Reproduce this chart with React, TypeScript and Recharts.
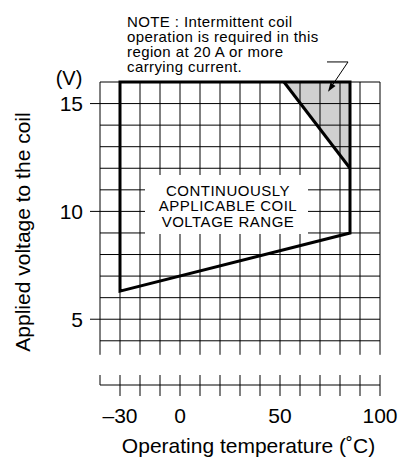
import React from 'react';
import { ComposedChart, XAxis, YAxis, Line, Area, ReferenceLine } from 'recharts';

const FONT = '"Liberation Sans", Arial, Helvetica, sans-serif';

// temperature (deg C) grid and labels
const tempTicks = [-40, -30, -20, -10, 0, 10, 20, 30, 40, 50, 60, 70, 80, 90, 100];
const tempLabels = [-30, 0, 50, 100];
// voltage grid and labels
const voltTicks = [5, 10, 15];
const voltGrid = [4, 5, 6, 7, 8, 9, 10, 11, 12, 13, 14, 15, 16];
const gridBottom = 3.35; // grid is broken below this voltage
const axisBottom = 1.95; // where the temperature axis sits

// continuously applicable range (outline, clockwise from top-left)
const rangeOutline = [
  { t: -30, v: 16 },
  { t: 85, v: 16 },
  { t: 85, v: 9 },
  { t: -30, v: 6.3 },
  { t: -30, v: 16 },
];
// intermittent operation region edge
const intermittentEdge = [
  { t: 52, v: 16 },
  { t: 85, v: 12 },
];
// note pointer
const noteLeader = [
  { t: 73.5, v: 16.93 },
  { t: 84, v: 16.93 },
  { t: 74, v: 15.55 },
];

const noteLines = [
  'NOTE : Intermittent coil',
  'operation is required in this',
  'region at 20 A or more',
  'carrying current.',
];
const rangeLines = ['CONTINUOUSLY', 'APPLICABLE COIL', 'VOLTAGE RANGE'];

const fmtTemp = (v: number) => (v < 0 ? `\u2013${Math.abs(v)}` : `${v}`);

const TempTick = (props: any) => {
  const { x, y, payload } = props;
  const first = payload.value === tempTicks[0];
  return (
    <g>
      <line x1={x} x2={x} y1={y - 10} y2={first ? y : y + 11} stroke="#000" strokeWidth={1} />
      {tempLabels.includes(payload.value) && (
        <text x={x} y={y + 38} textAnchor="middle" fontSize={21} fontFamily={FONT} fill="#000">
          {fmtTemp(payload.value)}
        </text>
      )}
    </g>
  );
};

const ArrowShape = (props: any) => {
  const { x1, y1, x2, y2 } = props;
  if ([x1, y1, x2, y2].some((n) => typeof n !== 'number')) return null;
  const a = Math.atan2(y2 - y1, x2 - x1);
  const len = 9;
  const half = 3;
  const bx = x2 - len * Math.cos(a);
  const by = y2 - len * Math.sin(a);
  const pts = `${x2},${y2} ${bx + half * Math.sin(a)},${by - half * Math.cos(a)} ${bx - half * Math.sin(a)},${by + half * Math.cos(a)}`;
  return (
    <g>
      <line x1={x1} y1={y1} x2={bx} y2={by} stroke="#000" strokeWidth={1} />
      <polygon points={pts} fill="#000" />
    </g>
  );
};

export default function App() {
  return (
    <div style={{ position: 'absolute', left: 0, top: 0, width: 409, height: 458, background: '#fff', fontFamily: FONT }}>
      <ComposedChart width={409} height={458} margin={{ top: 82, right: 29, bottom: 0, left: 0 }}>
        <XAxis
          type="number"
          dataKey="t"
          domain={[-40, 100]}
          ticks={tempTicks}
          interval={0}
          height={73}
          tickLine={false}
          tickSize={0}
          tickMargin={0}
          axisLine={{ stroke: '#000', strokeWidth: 1 }}
          tick={<TempTick />}
        />
        <YAxis
          type="number"
          dataKey="v"
          domain={[axisBottom, 16]}
          ticks={voltTicks}
          interval={0}
          width={100}
          axisLine={false}
          tickSize={10}
          tickMargin={7}
          tickLine={{ stroke: '#000', strokeWidth: 1 }}
          tick={{ fontSize: 21, fontFamily: FONT, fill: '#000' }}
        />
        <Area
          data={intermittentEdge}
          dataKey="v"
          type="linear"
          baseValue={16}
          fill="#d0d0d0"
          fillOpacity={1}
          stroke="none"
          dot={false}
          activeDot={false}
          isAnimationActive={false}
        />
        {voltGrid.map((v) => (
          <ReferenceLine key={`h${v}`} y={v} stroke="#000" strokeWidth={1} />
        ))}
        {tempTicks.map((t) => (
          <ReferenceLine
            key={`v${t}`}
            segment={[{ x: t, y: gridBottom }, { x: t, y: 16 }]}
            stroke="#000"
            strokeWidth={1}
          />
        ))}
        <Line
          data={rangeOutline}
          dataKey="v"
          type="linear"
          stroke="#000"
          strokeWidth={3}
          strokeLinecap="square"
          strokeLinejoin="miter"
          dot={false}
          activeDot={false}
          isAnimationActive={false}
        />
        <Line
          data={intermittentEdge}
          dataKey="v"
          type="linear"
          stroke="#000"
          strokeWidth={3}
          dot={false}
          activeDot={false}
          isAnimationActive={false}
        />
        <ReferenceLine
          segment={[{ x: noteLeader[0].t, y: noteLeader[0].v }, { x: noteLeader[1].t, y: noteLeader[1].v }]}
          stroke="#000"
          strokeWidth={1}
          ifOverflow="visible"
        />
        <ReferenceLine
          segment={[{ x: noteLeader[1].t, y: noteLeader[1].v }, { x: noteLeader[2].t, y: noteLeader[2].v }]}
          ifOverflow="visible"
          shape={<ArrowShape />}
        />
      </ComposedChart>

      <div style={{ position: 'absolute', left: 145, top: 175, width: 163, height: 59, background: '#fff' }} />
      <div
        style={{
          position: 'absolute',
          left: 128,
          top: 183.2,
          width: 200,
          textAlign: 'center',
          fontSize: 15,
          letterSpacing: '0.5px',
          lineHeight: '15.3px',
          color: '#000',
          whiteSpace: 'pre-line',
        }}
      >
        {rangeLines.join('\n')}
      </div>

      <div
        style={{
          position: 'absolute',
          left: 127,
          top: 14,
          fontSize: 15,
          letterSpacing: '0.4px',
          lineHeight: '15px',
          color: '#000',
          whiteSpace: 'pre',
        }}
      >
        {noteLines.join('\n')}
      </div>

      <div style={{ position: 'absolute', left: 49, top: 68, width: 40, textAlign: 'center', fontSize: 20, lineHeight: '20px', color: '#000' }}>
        (V)
      </div>

      <div
        style={{
          position: 'absolute',
          left: 248.5,
          top: 435.2,
          transform: 'translateX(-50%)',
          fontSize: 21,
          lineHeight: '21px',
          color: '#000',
          whiteSpace: 'nowrap',
        }}
      >
        Operating temperature (˚C)
      </div>

      <div
        style={{
          position: 'absolute',
          left: 22,
          top: 232,
          transform: 'translate(-50%, -50%) rotate(-90deg)',
          fontSize: 21,
          lineHeight: '21px',
          color: '#000',
          whiteSpace: 'nowrap',
        }}
      >
        Applied voltage to the coil
      </div>
    </div>
  );
}
